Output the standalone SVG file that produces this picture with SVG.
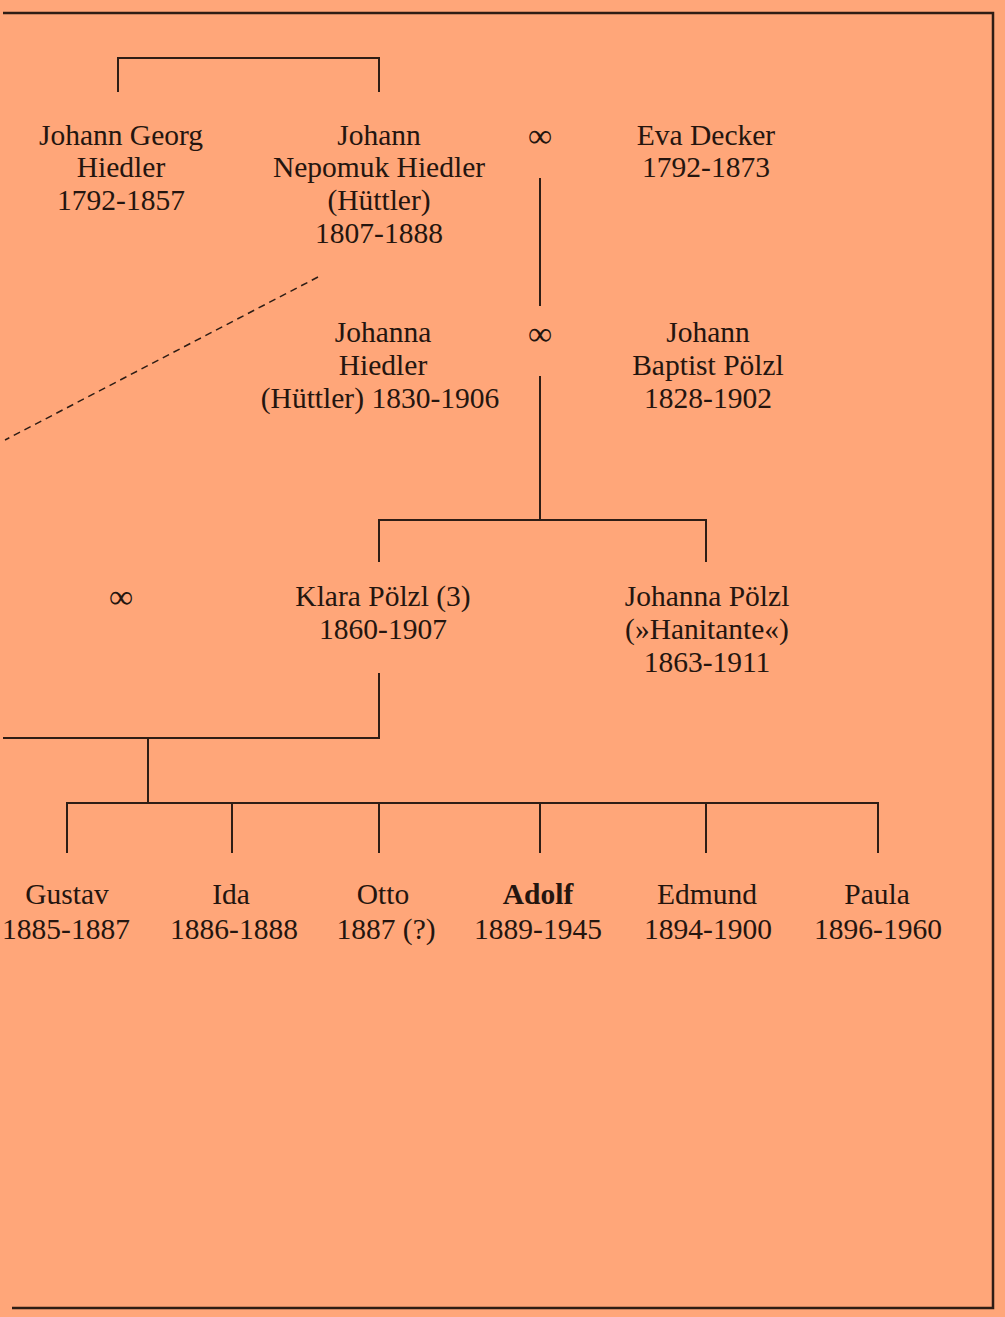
<svg xmlns="http://www.w3.org/2000/svg" width="1005" height="1317" viewBox="0 0 1005 1317">
<style>
  text { font-family: "Liberation Serif", "Times New Roman", serif; font-size: 29.5px; fill: #24150f; text-anchor: middle; }
  .bold { font-weight: bold; }
  .marr { font-size: 34px; }
  .ln { stroke: #2e1d15; stroke-width: 2; fill: none; }
  .frame { stroke: #2e1d15; stroke-width: 2.5; fill: none; }
  .dash { stroke: #2e1d15; stroke-width: 1.5; fill: none; stroke-dasharray: 7 5; }
</style>
<rect x="0" y="0" width="1005" height="1317" fill="#FFA679"/>
<g id="frame">
  <path class="frame" d="M3 13 H993 V1308 H12"/>
</g>
<g id="connectors">
  <path class="ln" d="M118 92 V58 H379 V92"/>
  <path class="ln" d="M540 178 V306"/>
  <path class="ln" d="M540 376 V520"/>
  <path class="ln" d="M379 562 V520 H706 V562"/>
  <path class="dash" d="M318 277 L5 440"/>
  <path class="ln" d="M379 673 V738 H3"/>
  <path class="ln" d="M148 738 V803"/>
  <path class="ln" d="M67 853 V803 H878 V853"/>
  <path class="ln" d="M232 803 V853 M379 803 V853 M540 803 V853 M706 803 V853"/>
</g>
<g id="johann-georg-hiedler">
  <text x="121" y="145">Johann Georg</text>
  <text x="121" y="177">Hiedler</text>
  <text x="121" y="210">1792-1857</text>
</g>
<g id="johann-nepomuk-hiedler">
  <text x="379" y="145">Johann</text>
  <text x="379" y="177">Nepomuk Hiedler</text>
  <text x="379" y="210">(Hüttler)</text>
  <text x="379" y="243">1807-1888</text>
</g>
<g id="marriage-1">
  <text class="marr" x="540" y="147">∞</text>
</g>
<g id="eva-decker">
  <text x="706" y="145">Eva Decker</text>
  <text x="706" y="177">1792-1873</text>
</g>
<g id="johanna-hiedler">
  <text x="383" y="342">Johanna</text>
  <text x="383" y="375">Hiedler</text>
  <text x="380" y="408">(Hüttler) 1830-1906</text>
</g>
<g id="marriage-2">
  <text class="marr" x="540" y="345">∞</text>
</g>
<g id="johann-baptist-poelzl">
  <text x="708" y="342">Johann</text>
  <text x="708" y="375">Baptist Pölzl</text>
  <text x="708" y="408">1828-1902</text>
</g>
<g id="marriage-3">
  <text class="marr" x="121" y="608">∞</text>
</g>
<g id="klara-poelzl">
  <text x="383" y="606">Klara Pölzl (3)</text>
  <text x="383" y="639">1860-1907</text>
</g>
<g id="johanna-poelzl">
  <text x="707" y="606">Johanna Pölzl</text>
  <text x="707" y="639">(»Hanitante«)</text>
  <text x="707" y="672">1863-1911</text>
</g>
<g id="gustav">
  <text x="67" y="904">Gustav</text>
  <text x="66" y="939">1885-1887</text>
</g>
<g id="ida">
  <text x="231" y="904">Ida</text>
  <text x="234" y="939">1886-1888</text>
</g>
<g id="otto">
  <text x="383" y="904">Otto</text>
  <text x="386" y="939">1887 (?)</text>
</g>
<g id="adolf">
  <text class="bold" x="538" y="904">Adolf</text>
  <text x="538" y="939">1889-1945</text>
</g>
<g id="edmund">
  <text x="707" y="904">Edmund</text>
  <text x="708" y="939">1894-1900</text>
</g>
<g id="paula">
  <text x="877" y="904">Paula</text>
  <text x="878" y="939">1896-1960</text>
</g>
</svg>
